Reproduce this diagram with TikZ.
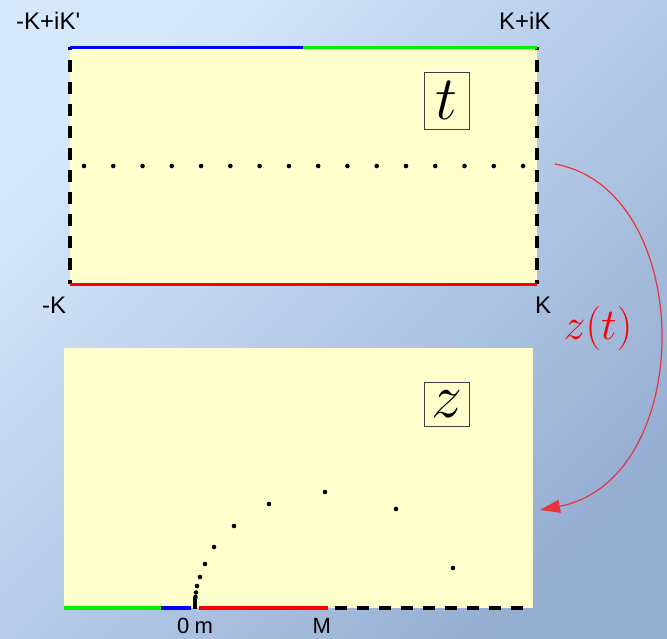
\RequirePackage{fix-cm}
\documentclass[tikz,border=0pt]{standalone}
\usepackage{fontspec}
\newfontfamily\labfont{Liberation Sans}[Ligatures=TeXOff]
\usetikzlibrary{arrows.meta}
\definecolor{bglight}{RGB}{214,232,252}
\definecolor{bgdark}{RGB}{150,174,210}
\definecolor{paper}{RGB}{255,255,204}
\definecolor{mapred}{RGB}{232,52,60}
\definecolor{lgreen}{RGB}{0,240,0}
\definecolor{lblue}{RGB}{0,0,245}
\definecolor{lred}{RGB}{250,0,0}
\tikzset{
  bdash/.style={line width=4pt, black, dash pattern=on 12pt off 10pt},
  edgeline/.style={line width=3.5pt},
  lab/.style={font=\labfont\fontsize{24}{24}\selectfont, inner sep=0pt, anchor=base west},
  sublab/.style={font=\labfont\fontsize{22}{22}\selectfont, inner sep=0pt, anchor=base west},
  planebox/.style={draw=black!75, line width=0.7pt, inner sep=0pt, minimum width=45pt},
  dot/.style={fill=black},
}
\begin{document}
\begin{tikzpicture}[x=1pt,y=-1pt]
\useasboundingbox (0,0) rectangle (667,638);
\shade[top color=bglight, bottom color=bgdark, shading angle=45] (0,0) rectangle (667,638);

% ---- t plane ----
\fill[paper] (70,47) rectangle (537,284.5);
\draw[bdash, dash phase=9pt] (70,47) -- (70,284);
\draw[bdash, dash phase=9pt] (537,47) -- (537,284);
\draw[edgeline, lblue] (70,47.5) -- (303,47.5);
\draw[edgeline, lgreen] (303,47.5) -- (537,47.5);
\draw[edgeline, lred] (70,284.5) -- (537,284.5);
\foreach \i in {0,...,15} \fill[dot] (84+29.27*\i,166) circle (2.3pt);

\node[lab] (ltl) at (16,29) {-K+iK'};
\node[lab] (ltr) at (499,29) {K+iK};
\node[lab] (lbl) at (42,313) {-K};
\node[lab] (lbr) at (535,313) {K};
\node[planebox, minimum height=57pt] (tbox) at (446.5,100.5) {\fontsize{62}{62}\selectfont$t$};

% ---- z plane ----
\fill[paper] (64,348) rectangle (533,608);
\draw[edgeline, lgreen] (64,608) -- (161,608);
\draw[edgeline, lblue] (161,608) -- (191,608);
\draw[edgeline, lred] (199,608) -- (328,608);
\draw[bdash, dash phase=15pt] (328,608) -- (533,608);
\draw[line width=4pt] (195,597) -- (195,609);
\foreach \p in {(325,492),(269,504),(234,526),(214,547),(205,564),(200,577),(197,586),(196,592.5),(195.5,597),(396,509),(453,568)}
  \fill[dot] \p circle (2.3pt);

\node[sublab] (l0) at (177,633.5) {0};
\node[sublab] (lm) at (194.5,633.5) {m};
\node[sublab] (lM) at (312.5,633.5) {M};
\node[planebox, minimum height=44pt] (zbox) at (446.5,404) {\fontsize{62}{62}\selectfont$z$};

% ---- mapping arrow ----
\coordinate (aS) at (555,164);
\coordinate (aE) at (540,510);
\draw[mapred, line width=1.2pt, -{Triangle[length=20pt,width=13pt]}] (aS) .. controls (697,190) and (697,480) .. (aE);
\node[text=lred, inner sep=0pt] (zt) at (598,328) {\fontsize{44}{44}\selectfont$z(t)$};
\end{tikzpicture}
\end{document}
